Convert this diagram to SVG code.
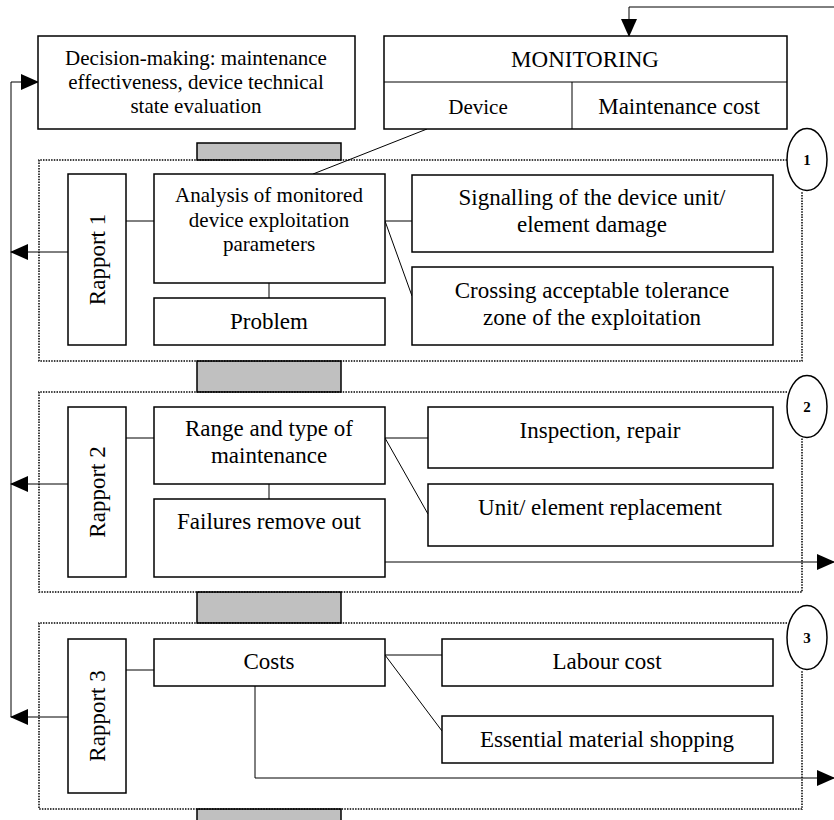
<svg xmlns="http://www.w3.org/2000/svg" width="834" height="820" viewBox="0 0 834 820">
<style>
.b{fill:#fff;stroke:#000;stroke-width:1.5}
.g{fill:#c0c0c0;stroke:#000;stroke-width:1.5}
.d{fill:none;stroke:#000;stroke-width:1.5;stroke-dasharray:1.5 1.2}
.l{fill:none;stroke:#000;stroke-width:1}
.t{font-family:"Liberation Serif","Times New Roman",serif;font-size:23px;text-anchor:middle;fill:#000}
.s{font-size:21px}
.n{font-family:"Liberation Serif","Times New Roman",serif;font-size:15px;font-weight:bold;text-anchor:middle;fill:#000}
</style>
<defs>
<marker id="ahs" markerWidth="18" markerHeight="16" refX="17" refY="8" orient="auto" markerUnits="userSpaceOnUse">
<path d="M0,0 L18,8 L0,16 Z" fill="#000"/>
</marker>
</defs>

<g id="grey-spine">
<rect class="g" x="197" y="143" width="144" height="17"/>
<rect class="g" x="197" y="361" width="144" height="31"/>
<rect class="g" x="197" y="592" width="144" height="31"/>
<rect class="g" x="197" y="809" width="144" height="14"/>
</g>

<g id="section1">
<path class="d" d="M787,160 H39 V361 H802 V191"/>
<ellipse cx="807" cy="159.5" rx="20" ry="31" fill="#fff" stroke="#000" stroke-width="1.5"/>
<text class="n" x="807" y="165">1</text>
</g>
<g id="section2">
<path class="d" d="M787,392 H39 V592 H802 V438"/>
<ellipse cx="807" cy="406.5" rx="20" ry="31" fill="#fff" stroke="#000" stroke-width="1.5"/>
<text class="n" x="807" y="412">2</text>
</g>
<g id="section3">
<path class="d" d="M787,623 H39 V809 H802 V670"/>
<ellipse cx="807" cy="637.5" rx="20" ry="32" fill="#fff" stroke="#000" stroke-width="1.5"/>
<text class="n" x="807" y="643">3</text>
</g>

<g id="connectors">
<polyline class="l" points="834,7 629,7 629,36" marker-end="url(#ahs)"/>
<polyline class="l" points="11,717 11,82 38,82" marker-end="url(#ahs)"/>
<line class="l" x1="68" y1="252" x2="11" y2="252" marker-end="url(#ahs)"/>
<line class="l" x1="68" y1="484" x2="11" y2="484" marker-end="url(#ahs)"/>
<line class="l" x1="68" y1="717" x2="11" y2="717" marker-end="url(#ahs)"/>
<line class="l" x1="427" y1="129" x2="313" y2="174"/>
<line class="l" x1="126" y1="221" x2="154" y2="221"/>
<line class="l" x1="269" y1="283" x2="269" y2="298"/>
<line class="l" x1="385" y1="221" x2="412" y2="221"/>
<line class="l" x1="385" y1="221" x2="412" y2="296"/>
<line class="l" x1="126" y1="438" x2="154" y2="438"/>
<line class="l" x1="269" y1="484" x2="269" y2="499"/>
<line class="l" x1="385" y1="438" x2="428" y2="438"/>
<line class="l" x1="385" y1="438" x2="428" y2="514"/>
<line class="l" x1="385" y1="562" x2="834" y2="562" marker-end="url(#ahs)"/>
<line class="l" x1="126" y1="670" x2="154" y2="670"/>
<line class="l" x1="385" y1="655" x2="442" y2="655"/>
<line class="l" x1="385" y1="655" x2="442" y2="731"/>
<polyline class="l" points="255,686 255,778 834,778" marker-end="url(#ahs)"/>
</g>

<g id="decision">
<rect class="b" x="38" y="36" width="317" height="93"/>
<text class="t s" x="196" y="65">Decision-making: maintenance</text>
<text class="t s" x="196" y="89">effectiveness, device technical</text>
<text class="t s" x="196" y="113">state evaluation</text>
</g>

<g id="monitoring">
<rect class="b" x="384" y="36" width="403" height="93"/>
<line class="l" x1="384" y1="82" x2="787" y2="82" stroke-width="1.5"/>
<line class="l" x1="572" y1="82" x2="572" y2="129" stroke-width="1.5"/>
<text class="t" x="585" y="67">MONITORING</text>
<text class="t s" x="478" y="114">Device</text>
<text class="t" x="679" y="114">Maintenance cost</text>
</g>

<g id="rapport1">
<rect class="b" x="68" y="174" width="58" height="171"/>
<text class="t" transform="translate(105,259.5) rotate(-90)" x="0" y="0">Rapport 1</text>
</g>
<g id="analysis">
<rect class="b" x="154" y="174" width="231" height="109"/>
<text class="t s" x="269" y="202">Analysis of monitored</text>
<text class="t s" x="269" y="227">device exploitation</text>
<text class="t s" x="269" y="251">parameters</text>
</g>
<g id="problem">
<rect class="b" x="154" y="298" width="231" height="47"/>
<text class="t" x="269" y="329">Problem</text>
</g>
<g id="signalling">
<rect class="b" x="412" y="175" width="361" height="77"/>
<text class="t" x="592" y="205">Signalling of the device unit/</text>
<text class="t" x="592" y="232">element damage</text>
</g>
<g id="crossing">
<rect class="b" x="412" y="267" width="361" height="78"/>
<text class="t" x="592" y="298">Crossing acceptable tolerance</text>
<text class="t" x="592" y="325">zone of the exploitation</text>
</g>

<g id="rapport2">
<rect class="b" x="68" y="407" width="58" height="170"/>
<text class="t" transform="translate(105,492) rotate(-90)" x="0" y="0">Rapport 2</text>
</g>
<g id="range">
<rect class="b" x="154" y="407" width="231" height="77"/>
<text class="t" x="269" y="436">Range and type of</text>
<text class="t" x="269" y="463">maintenance</text>
</g>
<g id="failures">
<rect class="b" x="154" y="499" width="231" height="78"/>
<text class="t" x="269" y="529">Failures remove out</text>
</g>
<g id="inspection">
<rect class="b" x="428" y="407" width="345" height="61"/>
<text class="t" x="600" y="438">Inspection, repair</text>
</g>
<g id="unit">
<rect class="b" x="428" y="484" width="345" height="62"/>
<text class="t" x="600" y="515">Unit/ element replacement</text>
</g>

<g id="rapport3">
<rect class="b" x="68" y="639" width="58" height="154"/>
<text class="t" transform="translate(105,716) rotate(-90)" x="0" y="0">Rapport 3</text>
</g>
<g id="costs">
<rect class="b" x="154" y="639" width="231" height="47"/>
<text class="t" x="269" y="669">Costs</text>
</g>
<g id="labour">
<rect class="b" x="442" y="639" width="331" height="47"/>
<text class="t" x="607" y="669">Labour cost</text>
</g>
<g id="essential">
<rect class="b" x="442" y="716" width="331" height="47"/>
<text class="t" x="607" y="747">Essential material shopping</text>
</g>
</svg>
